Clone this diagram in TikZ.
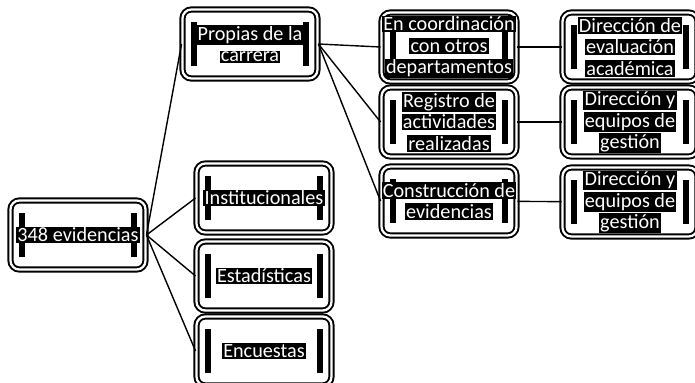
\documentclass[tikz,border=0pt]{standalone}
\usepackage{fontspec}
\setmainfont{Carlito}
\usetikzlibrary{positioning}
\newcommand{\hl}[1]{{\setlength{\fboxsep}{0.7pt}\colorbox{black}{\textcolor{white}{#1}}}}

\begin{document}
\begin{tikzpicture}[x=0.02cm,y=-0.02cm,thick,
  box node/.style={rectangle,rounded corners=5pt,draw=black,fill=white,double=white,double distance=1.3pt,line width=1.1pt,
    minimum width=2.7cm,minimum height=1.38cm,inner sep=0pt,align=center,
    font=\fontsize{11.5}{12.2}\selectfont,
    path picture={
      \fill[black,draw=none,sharp corners] ([xshift=5pt,yshift=-7pt]path picture bounding box.north west) rectangle ([xshift=8pt,yshift=7pt]path picture bounding box.south west);
      \fill[black,draw=none,sharp corners] ([xshift=-5pt,yshift=-7pt]path picture bounding box.north east) rectangle ([xshift=-8pt,yshift=7pt]path picture bounding box.south east);
    }}]
	\useasboundingbox (0,0) rectangle (695,382);
	\node[box node] (root) at (78,235) {\hl{348 evidencias}};
	\node[box node] (prop) at (250,44) {\hl{Propias de la}\\\hl{carrera}};
	\node[box node] (inst) at (264,198) {\hl{Institucionales}};
	\node[box node] (esta) at (264,276) {\hl{Estadísticas}};
	\node[box node] (encu) at (264,351) {\hl{Encuestas}};
	\node[box node] (coor) at (449,47) {\hl{En coordinación}\\\hl{con otros}\\\hl{departamentos}};
	\node[box node] (regi) at (449,122) {\hl{Registro de}\\\hl{actividades}\\\hl{realizadas}};
	\node[box node] (cons) at (449,201) {\hl{Construcción de}\\\hl{evidencias}};
	\node[box node] (eval) at (630,47) {\hl{Dirección de}\\\hl{evaluación}\\\hl{académica}};
	\node[box node] (equi) at (630,122) {\hl{Dirección y}\\\hl{equipos de}\\\hl{gestión}};
	\node[box node] (gest) at (630,202) {\hl{Dirección y}\\\hl{equipos de}\\\hl{gestión}};

	\path
		(root.east) edge (prop.west)
			edge (inst.west)
			edge (esta.west)
			edge (encu.west)
		(prop.east) edge (coor.west)
			edge (regi.west)
			edge (cons.west)
		(coor) edge (eval)
		(regi) edge (equi)
		(cons) edge (gest);
\end{tikzpicture}
\end{document}
